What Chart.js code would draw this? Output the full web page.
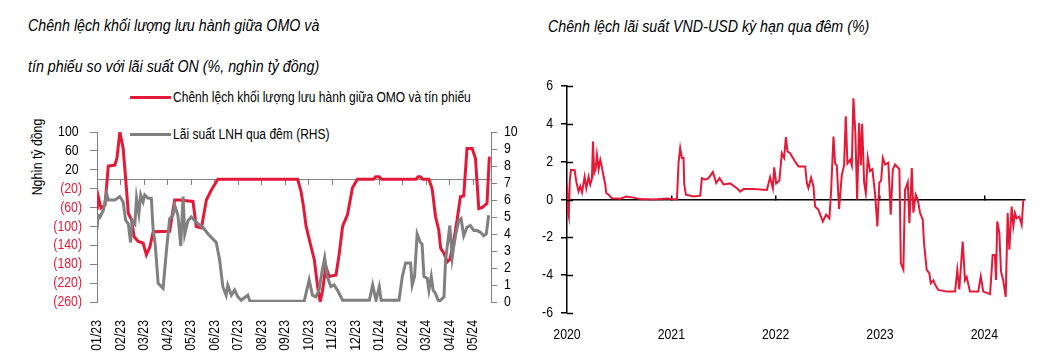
<!DOCTYPE html>
<html>
<head>
<meta charset="utf-8">
<script src="https://cdn.jsdelivr.net/npm/chart.js@4.4.1/dist/chart.umd.min.js"></script>
<style>
  body {
    margin: 0;
    background: #fff;
    width: 1048px;
    height: 364px;
    overflow: hidden;
    position: relative;
    font-family: 'Liberation Sans', Arial, sans-serif;
    color: #000;
  }
  canvas { position: absolute; top: 0; }
  #omoChart { left: 0; }
  #fxChart { left: 520px; }
  .title { position: absolute; font-style: italic; font-size: 16px; white-space: nowrap; transform: scaleX(0.89); transform-origin: left top; }
  .legend { position: absolute; left: 130px; font-size: 14px; line-height: 18px; white-space: nowrap; }
  .legend .name { display: inline-block; transform: scaleX(0.86); transform-origin: left center; vertical-align: middle; }
  .swatch { display: inline-block; width: 41px; height: 3px; vertical-align: middle; margin-right: 2px; }
  .ytitle { position: absolute; font-size: 15px; white-space: nowrap; transform: translate(-50%, -50%) rotate(-90deg) scaleX(0.82); }
</style>
</head>
<body>
<div class="title" style="left:28px; top:5px; line-height:41px">Chênh lệch khối lượng lưu hành giữa OMO và<br>tín phiếu so với lãi suất ON (%, nghìn tỷ đồng)</div>
<div class="title" style="left:548px; top:17px; line-height:20px">Chênh lệch lãi suất VND-USD kỳ hạn qua đêm (%)</div>
<div class="ytitle" style="left:36px; top:157px">Nghìn tỷ đồng</div>
<div id="legend"></div>
<canvas id="omoChart" width="520" height="364"></canvas>
<canvas id="fxChart" width="528" height="364"></canvas>
<script>
// left chart: month ticks 01/23 .. 05/24, x positions in months from 01/23
const monthLabels = ['01/23', '02/23', '03/23', '04/23', '05/23', '06/23', '07/23', '08/23', '09/23',
  '10/23', '11/23', '12/23', '01/24', '02/24', '03/24', '04/24', '05/24']
const seriesNames = ['Chênh lệch khối lượng lưu hành giữa OMO và tín phiếu', 'Lãi suất LNH qua đêm (RHS)']

// OMO - tín phiếu gap, nghìn tỷ đồng
const gapMonths = [0, 0.06, 0.17, 0.34, 0.48, 0.76, 0.85, 0.97, 1.11, 1.22,
  1.33, 1.47, 1.58, 1.75, 1.96, 2.1, 2.25, 2.39, 3.09, 3.3,
  3.5, 4.08, 4.22, 4.44, 4.65, 4.86, 5.14, 8.53, 8.67, 8.78,
  8.89, 9.1, 9.24, 9.38, 9.49, 9.59, 9.73, 9.87, 10.16, 10.3,
  10.44, 10.65, 10.86, 11.07, 11.75, 11.85, 12.0, 12.1, 13.55, 13.65,
  13.75, 13.85, 14.11, 14.25, 14.39, 14.53, 14.61, 14.75, 14.89, 15.0,
  15.17, 15.31, 15.45, 15.59, 15.73, 15.95, 16.09, 16.23, 16.37, 16.58,
  16.68]
const gapValues = [-65, -38, -61, -55, 28, 30, 45, 100, 66, 0,
  -72, -86, -122, -132, -135, -160, -143, -111, -110, -44,
  -44, -47, -100, -103, -44, -23, 0, 0, -25, -58,
  -100, -143, -171, -228, -259, -235, -185, -206, -203, -157,
  -100, -75, -18, 0, 0, 5, 5, 0, 0, 5,
  5, 0, 0, -21, -79, -108, -146, -157, -175, -170,
  -129, -86, -37, -35, 65, 65, 44, -62, -60, -51,
  48]

// overnight interbank rate, % (RHS)
const rateMonths = [0, 0.05, 0.13, 0.27, 0.41, 0.48, 0.76, 0.97, 1.11, 1.22,
  1.33, 1.43, 1.5, 1.61, 1.68, 1.78, 1.86, 1.96, 2.03, 2.17,
  2.31, 2.38, 2.48, 2.6, 2.81, 2.95, 3.09, 3.23, 3.3, 3.44,
  3.56, 3.66, 3.73, 3.87, 4.01, 4.15, 4.29, 4.5, 4.72, 4.86,
  5.07, 5.21, 5.35, 5.49, 5.56, 5.71, 5.85, 5.99, 6.13, 6.41,
  6.5, 8.81, 9.02, 9.16, 9.3, 9.44, 9.58, 9.68, 9.79, 9.94,
  10.08, 10.22, 10.44, 11.58, 11.72, 11.86, 12.0, 12.08, 12.84, 12.98,
  13.12, 13.33, 13.4, 13.5, 13.61, 13.75, 13.82, 13.9, 14.04, 14.11,
  14.21, 14.29, 14.39, 14.53, 14.75, 14.82, 14.92, 15.0, 15.1, 15.17,
  15.24, 15.38, 15.48, 15.59, 15.73, 15.87, 16.02, 16.16, 16.3, 16.44,
  16.55, 16.65]
const rateValues = [4.3, 5.1, 5.0, 5.4, 6.4, 6.0, 6.0, 6.2, 5.9, 4.8,
  4.6, 3.5, 4.8, 4.6, 6.1, 5.2, 6.3, 5.9, 6.3, 6.1,
  6.1, 4.4, 3.3, 1.1, 0.8, 3.0, 4.9, 5.1, 5.7, 5.1,
  3.3, 6.2, 4.0, 4.8, 5.0, 4.8, 4.6, 4.4, 4.0, 3.8,
  3.5, 2.5, 0.9, 0.4, 1.0, 0.4, 0.7, 0.3, 0.1, 0.4,
  0.05, 0.05, 1.3, 0.4, 0.3, 0.7, 1.9, 2.6, 1.5, 0.9,
  1.0, 0.7, 0.1, 0.1, 1.0, 0.1, 0.9, 0.1, 0.1, 1.5,
  2.3, 2.3, 1.0, 1.5, 4.0, 3.5, 3.4, 1.5, 1.4, 0.7,
  1.5, 0.7, 0.5, 0.0, 0.3, 2.5, 3.6, 4.5, 2.6, 3.3,
  3.9, 4.8, 4.9, 3.9, 4.4, 4.5, 4.2, 4.2, 4.1, 3.9,
  4.0, 5.1]

// right chart: VND-USD overnight spread, %
const yearTicks = [2020, 2021, 2022, 2023, 2024]
const fxYears = [2020.0, 2020.01, 2020.017, 2020.027, 2020.038, 2020.073, 2020.089, 2020.111, 2020.127, 2020.144,
  2020.169, 2020.185, 2020.207, 2020.223, 2020.239, 2020.249, 2020.261, 2020.274, 2020.287, 2020.303,
  2020.319, 2020.335, 2020.351, 2020.367, 2020.376, 2020.398, 2020.431, 2020.511, 2020.568, 2020.638,
  2020.702, 2020.83, 2020.958, 2021.054, 2021.069, 2021.085, 2021.101, 2021.117, 2021.124, 2021.14,
  2021.213, 2021.277, 2021.293, 2021.325, 2021.356, 2021.398, 2021.43, 2021.462, 2021.5, 2021.564,
  2021.628, 2021.66, 2021.692, 2021.787, 2021.916, 2021.947, 2021.973, 2021.986, 2022.005, 2022.036,
  2022.059, 2022.081, 2022.098, 2022.113, 2022.139, 2022.187, 2022.218, 2022.283, 2022.299, 2022.314,
  2022.34, 2022.362, 2022.378, 2022.41, 2022.452, 2022.484, 2022.515, 2022.532, 2022.554, 2022.57,
  2022.586, 2022.608, 2022.634, 2022.656, 2022.672, 2022.688, 2022.714, 2022.73, 2022.745, 2022.764,
  2022.781, 2022.8, 2022.816, 2022.829, 2022.848, 2022.864, 2022.883, 2022.905, 2022.927, 2022.953,
  2022.975, 2022.994, 2023.011, 2023.027, 2023.049, 2023.08, 2023.103, 2023.123, 2023.145, 2023.186,
  2023.2, 2023.224, 2023.24, 2023.266, 2023.282, 2023.305, 2023.32, 2023.343, 2023.362, 2023.384,
  2023.41, 2023.422, 2023.448, 2023.473, 2023.487, 2023.511, 2023.528, 2023.559, 2023.64, 2023.72,
  2023.741, 2023.76, 2023.793, 2023.815, 2023.831, 2023.863, 2023.942, 2023.966, 2023.99, 2024.055,
  2024.08, 2024.102, 2024.112, 2024.124, 2024.144, 2024.16, 2024.182, 2024.205, 2024.224, 2024.24,
  2024.262, 2024.278, 2024.294, 2024.31, 2024.335, 2024.358, 2024.374]
const fxSpread = [0.78, -0.72, -0.9, 1.0, 1.57, 1.55, 0.95, 0.42, 0.7, 0.37,
  1.2, 0.6, 1.2, 0.78, 1.1, 3.07, 1.4, 1.6, 2.37, 1.6,
  2.1, 1.7, 1.2, 0.78, 0.34, 0.25, 0.07, 0.04, 0.16, 0.1,
  0.02, 0.0, 0.05, 0.0, 1.93, 2.72, 2.2, 2.2, 0.78, 0.25,
  0.16, 0.2, 1.13, 1.05, 1.13, 1.45, 0.87, 1.13, 0.8, 0.85,
  0.6, 0.42, 0.55, 0.55, 0.5, 1.18, 0.6, 1.7, 0.85, 1.0,
  2.45, 2.2, 3.3, 2.54, 2.45, 2.0, 1.75, 1.75, 0.87, 0.6,
  1.15, 0.7, -0.37, -0.55, -1.16, -0.8, -1.0, 0.5, 3.33, 1.9,
  1.8, -0.5, 1.3, 1.8, 4.4, 1.9, 2.1, 1.8, 5.35, 3.5,
  0.0, 4.04, 1.8, 4.0, 0.9, 0.34, 2.2, 1.5, 1.6, 0.3,
  -1.43, 0.9, 1.0, 2.2, 1.85, 1.95, -0.8, 1.6, 1.85, 1.6,
  -3.37, -3.7, 0.5, 0.9, -1.25, 1.66, -0.7, 0.26, 0.0, -0.7,
  -1.07, -2.3, -3.72, -3.9, -4.42, -4.27, -4.5, -4.78, -4.87, -4.87,
  -3.72, -4.75, -2.22, -4.27, -4.1, -4.87, -4.87, -4.07, -4.87, -5.0,
  -2.93, -2.93, -4.25, -1.16, -1.77, -3.8, -4.3, -5.15, -0.72, -2.66,
  -0.37, -1.4, -0.72, -1.0, -0.9, -1.34, 0.0]

const red = 'rgb(227, 25, 55)'
const grey = 'rgb(128, 128, 128)'

Chart.defaults.font.family = "'Liberation Sans', Arial, sans-serif"
Chart.defaults.font.size = 15
Chart.defaults.color = '#000'
Chart.defaults.animation = false
Chart.defaults.plugins.legend.display = false
Chart.defaults.plugins.tooltip.enabled = false

function pairs(xs, ys) {
  return xs.map((x, i) => ({ x: x, y: ys[i] }))
}

function monthTicks(scale) {
  scale.ticks = monthLabels.map((l, i) => ({ value: i }))
}

function yearTickList(scale) {
  scale.ticks = yearTicks.map((y) => ({ value: y }))
}

// no narrow font installed: squeeze canvas text horizontally around its anchor
const narrowText = {
  id: 'narrowText',
  beforeDraw(chart) {
    const ctx = chart.ctx
    if (ctx.narrowed) return
    const fill = ctx.fillText.bind(ctx)
    ctx.fillText = function (text, x, y) {
      ctx.save()
      ctx.translate(x, y)
      ctx.scale(0.82, 1)
      fill(text, 0, 0)
      ctx.restore()
    }
    ctx.narrowed = true
  },
}

// legend built from the series names
const legendColors = [red, grey]
const legendTops = [87, 124]
document.getElementById('legend').innerHTML = seriesNames
  .map((name, i) => '<div class="legend" style="top:' + legendTops[i] + 'px"><span class="swatch" style="background:' +
    legendColors[i] + '"></span><span class="name">' + name + '</span></div>')
  .join('')

new Chart(document.getElementById('omoChart'), {
  type: 'line',
  data: {
    datasets: [
      {
        label: seriesNames[0],
        data: pairs(gapMonths, gapValues),
        yAxisID: 'y',
        borderColor: red,
        borderWidth: 3,
        pointRadius: 0,
        tension: 0,
        order: 1,
      },
      {
        label: seriesNames[1],
        data: pairs(rateMonths, rateValues),
        yAxisID: 'y2',
        borderColor: grey,
        borderWidth: 3,
        pointRadius: 0,
        tension: 0,
        order: 0,
      },
    ],
  },
  options: {
    responsive: false,
    layout: { padding: { top: 132 } },
    scales: {
      x: {
        type: 'linear',
        min: 0,
        max: 16.75,
        afterBuildTicks: monthTicks,
        grid: { display: false },
        border: { display: false },
        ticks: {
          autoSkip: false,
          minRotation: 90,
          maxRotation: 90,
          padding: 10,
          callback: (v) => monthLabels[v],
        },
        afterFit: (s) => { s.height = 62 },
      },
      xZero: {
        axis: 'x',
        type: 'linear',
        position: { y: 0 },
        min: 0,
        max: 16.75,
        afterBuildTicks: monthTicks,
        ticks: { display: false },
        grid: { drawOnChartArea: false, tickLength: 5, color: grey },
        border: { color: grey },
      },
      y: {
        position: 'left',
        min: -260,
        max: 100,
        ticks: {
          autoSkip: false,
          stepSize: 40,
          padding: 8,
          color: (ctx) => (ctx.tick.value < 0 ? red : '#000'),
          callback: (v) => (v < 0 ? '(' + -v + ')' : v + ' '),
        },
        grid: { drawOnChartArea: false, tickLength: 7, color: grey },
        border: { color: grey },
        afterFit: (s) => { s.width = 97 },
      },
      y2: {
        position: 'right',
        min: 0,
        max: 10,
        ticks: { autoSkip: false, stepSize: 1, padding: 7 },
        grid: { drawOnChartArea: false, tickLength: 6, color: grey },
        border: { color: grey },
        afterFit: (s) => { s.width = 29 },
      },
    },
  },
  plugins: [narrowText],
})

// tick marks on the right chart's y axis cross the axis line
const innerTicks = {
  id: 'innerTicks',
  afterDraw(chart) {
    const s = chart.scales.y
    const ctx = chart.ctx
    ctx.save()
    ctx.strokeStyle = '#000'
    ctx.lineWidth = 1.5
    s.ticks.forEach((t) => {
      const y = Math.round(s.getPixelForValue(t.value)) + 0.5
      ctx.beginPath()
      ctx.moveTo(s.right, y)
      ctx.lineTo(s.right + 6, y)
      ctx.stroke()
    })
    ctx.restore()
  },
}

new Chart(document.getElementById('fxChart'), {
  type: 'line',
  data: {
    datasets: [
      {
        label: 'VND-USD',
        data: pairs(fxYears, fxSpread),
        borderColor: red,
        borderWidth: 2,
        pointRadius: 0,
        tension: 0,
      },
    ],
  },
  options: {
    responsive: false,
    layout: { padding: { top: 86, right: 23 } },
    scales: {
      x: {
        type: 'linear',
        min: 2020,
        max: 2024.39,
        afterBuildTicks: yearTickList,
        grid: { display: false },
        border: { display: false },
        ticks: { autoSkip: false, padding: 5, maxRotation: 0, callback: (v) => String(v) },
        afterFit: (s) => { s.height = 51 },
      },
      xZero: {
        axis: 'x',
        type: 'linear',
        position: { y: 0 },
        min: 2020,
        max: 2024.39,
        afterBuildTicks: yearTickList,
        ticks: { display: false },
        grid: { drawOnChartArea: false, tickLength: -5, color: '#000', lineWidth: 1.5 },
        border: { color: '#000', width: 1.5 },
      },
      y: {
        min: -6,
        max: 6,
        ticks: { autoSkip: false, stepSize: 2, padding: 8 },
        grid: { drawOnChartArea: false, tickLength: 6, color: '#000', lineWidth: 1.5 },
        border: { color: '#000', width: 1.5 },
        afterFit: (s) => { s.width = 47 },
      },
    },
  },
  plugins: [innerTicks, narrowText],
})
</script>
</body>
</html>
